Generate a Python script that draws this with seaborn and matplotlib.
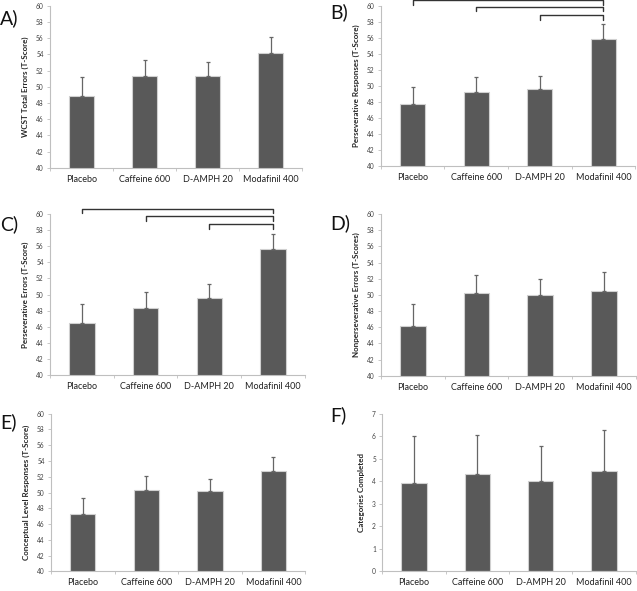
import numpy as np
import pandas as pd
import matplotlib
matplotlib.use('Agg')
import matplotlib.pyplot as plt
import seaborn as sns

# groups on the x axis (same for every panel)
groups = ['Placebo', 'Caffeine 600', 'D-AMPH 20', 'Modafinil 400']

# panel A - WCST total errors
total_err_mean = [48.9, 51.35, 51.4, 54.2]
total_err_sd = [2.35, 2.0, 1.65, 2.0]

# panel B - perseverative responses
pers_resp_mean = [47.7, 49.2, 49.6, 55.9]
pers_resp_sd = [2.2, 1.9, 1.6, 1.9]

# panel C - perseverative errors
pers_err_mean = [46.5, 48.35, 49.6, 55.6]
pers_err_sd = [2.3, 1.95, 1.75, 1.95]

# panel D - nonperseverative errors
nonpers_err_mean = [46.2, 50.2, 50.0, 50.5]
nonpers_err_sd = [2.65, 2.3, 2.0, 2.3]

# panel E - conceptual level responses
concept_mean = [47.3, 50.35, 50.15, 52.75]
concept_sd = [2.05, 1.75, 1.55, 1.75]

# panel F - categories completed
categories_mean = [3.92, 4.31, 4.02, 4.47]
categories_sd = [2.08, 1.76, 1.53, 1.8]

# significance brackets: (group from, group to, height)
brackets_B = [('Placebo', 'Modafinil 400', 60.7), ('Caffeine 600', 'Modafinil 400', 59.9),
              ('D-AMPH 20', 'Modafinil 400', 58.85)]
brackets_C = [('Placebo', 'Modafinil 400', 60.65), ('Caffeine 600', 'Modafinil 400', 59.7),
              ('D-AMPH 20', 'Modafinil 400', 58.7)]

sns.set_style('white')
plt.rcParams['font.family'] = ['Lato', 'DejaVu Sans']

panels = [
    ('A)', total_err_mean, total_err_sd, 'WCST Total Errors (T-Score)', (40, 60, 2), None,
     [0.0785, 0.716, 0.396, 0.274], (0.0, 0.985)),
    ('B)', pers_resp_mean, pers_resp_sd, 'Perseverative Responses (T-Score)', (40, 60, 2), brackets_B,
     [0.598, 0.719, 0.399, 0.271], (0.518, 0.995)),
    ('C)', pers_err_mean, pers_err_sd, 'Perseverative Errors (T-Score)', (40, 60, 2), brackets_C,
     [0.0785, 0.365, 0.4, 0.273], (0.0, 0.636)),
    ('D)', nonpers_err_mean, nonpers_err_sd, 'Nonperseverative Errors (T-Scores)', (40, 60, 2), None,
     [0.598, 0.364, 0.4, 0.274], (0.518, 0.638)),
    ('E)', concept_mean, concept_sd, 'Conceptual Level Responses (T-Score)', (40, 60, 2), None,
     [0.080, 0.033, 0.399, 0.267], (0.0, 0.301)),
    ('F)', categories_mean, categories_sd, 'Categories Completed', (0, 7, 1), None,
     [0.600, 0.033, 0.398, 0.267], (0.518, 0.312)),
]

fig = plt.figure(figsize=(6.37, 5.91), dpi=100)

for letter, means, sds, ylabel, (ymin, ymax, ystep), brackets, pos, letter_pos in panels:
    ax = fig.add_axes(pos)
    df = pd.DataFrame({'group': groups, 'mean': means, 'sd': sds})
    sns.barplot(data=df, x='group', y='mean', ax=ax, color='#595959', saturation=1,
                width=0.4, edgecolor='#d0d0d0', linewidth=0.8, zorder=2)
    # upper error bars only
    ax.errorbar(np.arange(len(groups)), df['mean'], yerr=[np.zeros(len(groups)), df['sd']],
                fmt='none', ecolor='#666666', elinewidth=0.9, capsize=1.2, capthick=0.9, zorder=3)

    ax.set_ylim(ymin, ymax)
    ax.set_xlim(-0.5, len(groups) - 0.5)
    ax.set_yticks(np.arange(ymin, ymax + ystep / 2, ystep))
    ax.set_xticks(np.arange(-0.5, len(groups), 1.0), minor=True)
    ax.tick_params(axis='x', which='major', length=0, labelsize=6.5, pad=5, labelcolor='#222222')
    ax.tick_params(axis='x', which='minor', length=2.5, width=0.6, color='#bfbfbf', direction='out', bottom=True)
    ax.tick_params(axis='y', length=2.5, width=0.6, color='#bfbfbf', direction='out', left=True,
                   labelsize=4.8, labelcolor='#444444', pad=2)
    ax.set_xlabel('')
    ax.set_ylabel(ylabel, fontsize=5.8, fontweight='bold', labelpad=5)
    for side in ['top', 'right']:
        ax.spines[side].set_visible(False)
    for side in ['left', 'bottom']:
        ax.spines[side].set_color('#bfbfbf')
        ax.spines[side].set_linewidth(0.8)

    if brackets is not None:
        tip = 0.55
        for g1, g2, h in brackets:
            x1, x2 = groups.index(g1), groups.index(g2)
            ax.plot([x1, x1, x2, x2], [h - tip, h, h, h - tip], color='#333333', lw=1.0,
                    clip_on=False, zorder=4)

    fig.text(letter_pos[0], letter_pos[1], letter, fontsize=14, va='top', ha='left', color='#111111')

plt.savefig('out.png', dpi=100)
